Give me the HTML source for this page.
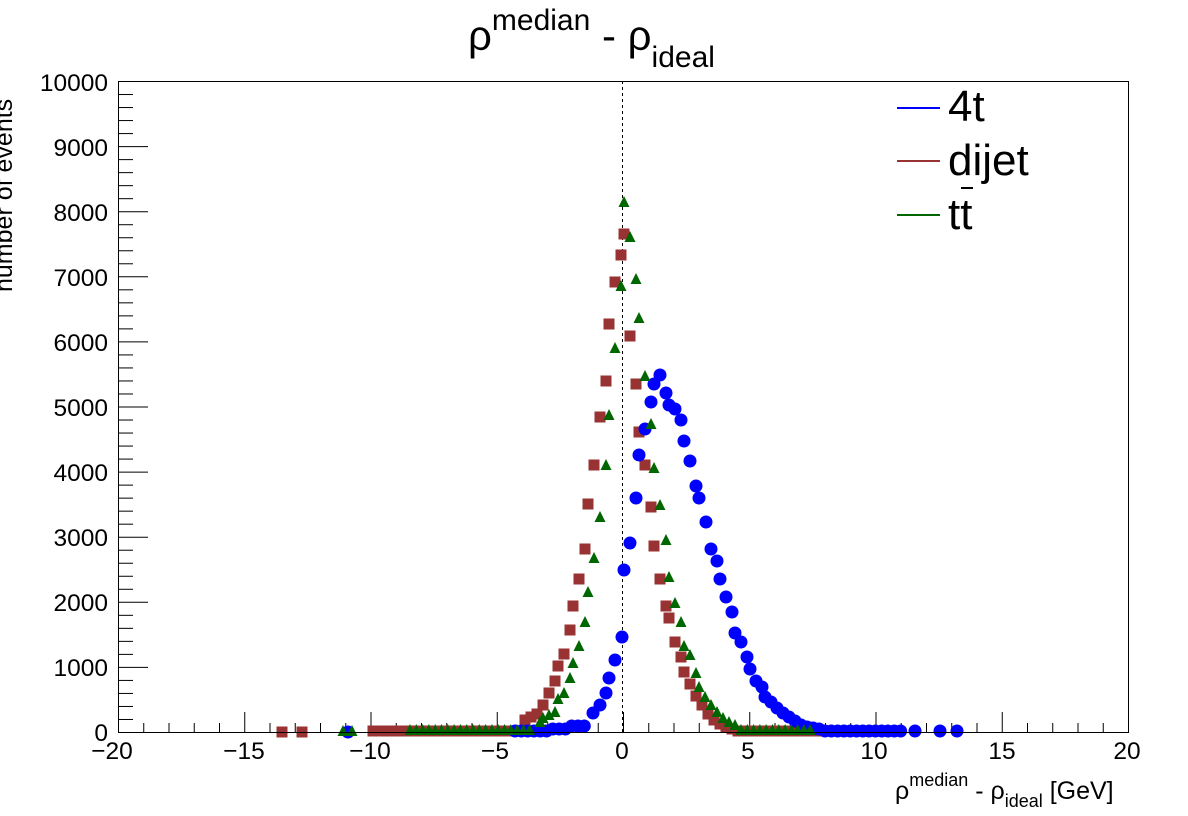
<!DOCTYPE html>
<html><head><meta charset="utf-8"><style>
html,body{margin:0;padding:0;background:#fff;}
svg{display:block;font-family:"Liberation Sans",sans-serif;}
</style></head><body>
<svg id="s" width="1188" height="816" xmlns="http://www.w3.org/2000/svg">
<rect x="0" y="0" width="1188" height="816" fill="#fff"/>
<g id="ticks" stroke="#000" stroke-width="1"></g>
<line x1="622.5" y1="81" x2="622.5" y2="732" stroke="#000" stroke-dasharray="3,3"/>
<g id="pts"></g>
<rect x="118.5" y="81.5" width="1010" height="651" fill="none" stroke="#000"/>
<g font-size="24.5" fill="#000" text-anchor="end">
<text x="108" y="741">0</text><text x="108" y="676">1000</text><text x="108" y="611">2000</text>
<text x="108" y="546">3000</text><text x="108" y="481">4000</text><text x="108" y="416">5000</text>
<text x="108" y="351">6000</text><text x="108" y="286">7000</text><text x="108" y="221">8000</text>
<text x="108" y="156">9000</text><text x="108" y="91">10000</text>
</g>
<g font-size="24.5" fill="#000" text-anchor="middle">
<text x="112" y="759">−20</text><text x="244" y="759">−15</text><text x="370" y="759">−10</text>
<text x="495" y="759">−5</text><text x="622" y="759">0</text><text x="748" y="759">5</text>
<text x="874" y="759">10</text><text x="1002" y="759">15</text><text x="1127" y="759">20</text>
</g>
<text x="895" y="799" font-size="25">ρ<tspan font-size="18" dy="-13">median</tspan><tspan dy="13"> -  ρ</tspan><tspan font-size="18" dy="8">ideal</tspan><tspan dy="-8"> [GeV]</tspan></text>
<text x="468" y="50" font-size="42">ρ<tspan font-size="30" dy="-20">median</tspan><tspan dy="20"> -  ρ</tspan><tspan font-size="30" dy="17">ideal</tspan></text>
<text transform="translate(12,292) rotate(-90)" font-size="25" text-anchor="start">number of events</text>
<line x1="897" y1="108" x2="940" y2="108" stroke="#0000ff" stroke-width="2"/>
<line x1="897" y1="161" x2="940" y2="161" stroke="#993333" stroke-width="2"/>
<line x1="897" y1="215" x2="940" y2="215" stroke="#006600" stroke-width="2"/>
<text x="948" y="121" font-size="44">4t</text>
<text x="948" y="175" font-size="44">dijet</text>
<text x="948" y="229" font-size="44">tt</text>
<line x1="961" y1="188" x2="973" y2="188" stroke="#000" stroke-width="2"/>
</svg>
<script>
var NS="http://www.w3.org/2000/svg",t=document.getElementById('ticks'),p=document.getElementById('pts');
function L(a,b,c,d){var l=document.createElementNS(NS,'line');l.setAttribute('x1',a);l.setAttribute('y1',b);l.setAttribute('x2',c);l.setAttribute('y2',d);t.appendChild(l);}
for(var i=0;i<=40;i++){var x=118.5+i*25.25;L(x,732,x,i%5==0?712:723);}
for(var i=0;i<=50;i++){var y=732.5-i*13.02;L(118,y,i%5==0?148:133,y);}
function C(x,y){var e=document.createElementNS(NS,'circle');e.setAttribute('cx',x);e.setAttribute('cy',y);e.setAttribute('r',6.5);e.setAttribute('fill','#0000ff');p.appendChild(e);}
function S(x,y){var e=document.createElementNS(NS,'rect');e.setAttribute('x',x-5.5);e.setAttribute('y',y-5.5);e.setAttribute('width',11);e.setAttribute('height',11);e.setAttribute('fill','#993333');p.appendChild(e);}
function T(x,y){var e=document.createElementNS(NS,'polygon');e.setAttribute('points',(x-5.5)+','+(y+5)+' '+x+','+(y-6)+' '+(x+5.5)+','+(y+5));e.setAttribute('fill','#006600');p.appendChild(e);}
[282,302].forEach(function(x){S(x,732)});
for(var x=373;x<=520;x+=6.3)S(x,731);
[[525,720],[531,717],[537,714],[543,705],[549,693],[555,681],[558,666],[564,654],[570,630],[573,606],[579,579],[585,549],[588,504],[594,465],[600,417],[606,381],[609,324],[615,282],[621,255],[624,234],[630,336],[636,384],[639,432],[645,465],[651,507],[654,546],[660,579],[666,606],[669,618],[675,642],[681,657],[684,672],[690,684],[696,696],[702,705],[708,714],[714,720],[720,724],[726,727],[732,729]].forEach(function(a){S(a[0],a[1])});
for(var x=738;x<=822;x+=6.3)S(x,731);
C(348,732);
for(var x=515;x<=585;x+=6.3)C(x,x<550?731:(x<570?729:726));
[[593,713],[600,705],[606,693],[609,678],[615,660],[622,637],[624,570],[630,543],[636,498],[639,455],[645,429],[651,402],[654,384],[660,375],[666,393],[669,405],[675,409],[681,420],[684,441],[690,461],[696,486],[699,498],[706,522],[711,549],[717,561],[720,579],[726,597],[732,612],[735,633],[741,642],[747,657],[750,669],[756,681],[762,687],[765,697],[771,702],[777,708],[783,713],[789,717],[795,721],[801,725],[807,727],[813,728],[819,729]].forEach(function(a){C(a[0],a[1])});
for(var x=825;x<=905;x+=6.3)C(x,731);
[915,940,957].forEach(function(x){C(x,731)});
[343,352].forEach(function(x){T(x,731)});
for(var x=410;x<=535;x+=6.3)T(x,730);
[[540,722],[543,718],[549,715],[555,712],[558,699],[564,693],[570,678],[573,663],[579,646],[585,622],[588,592],[594,558],[600,517],[606,465],[609,415],[615,348],[621,286],[624,202],[630,237],[636,279],[639,318],[645,376],[651,424],[654,468],[660,505],[666,540],[669,577],[675,603],[681,622],[684,646],[690,655],[696,673],[699,687],[705,697],[711,705],[717,712],[723,718],[729,722],[735,725]].forEach(function(a){T(a[0],a[1])});
for(var x=741;x<=812;x+=6.3)T(x,730);
</script>
</body></html>
